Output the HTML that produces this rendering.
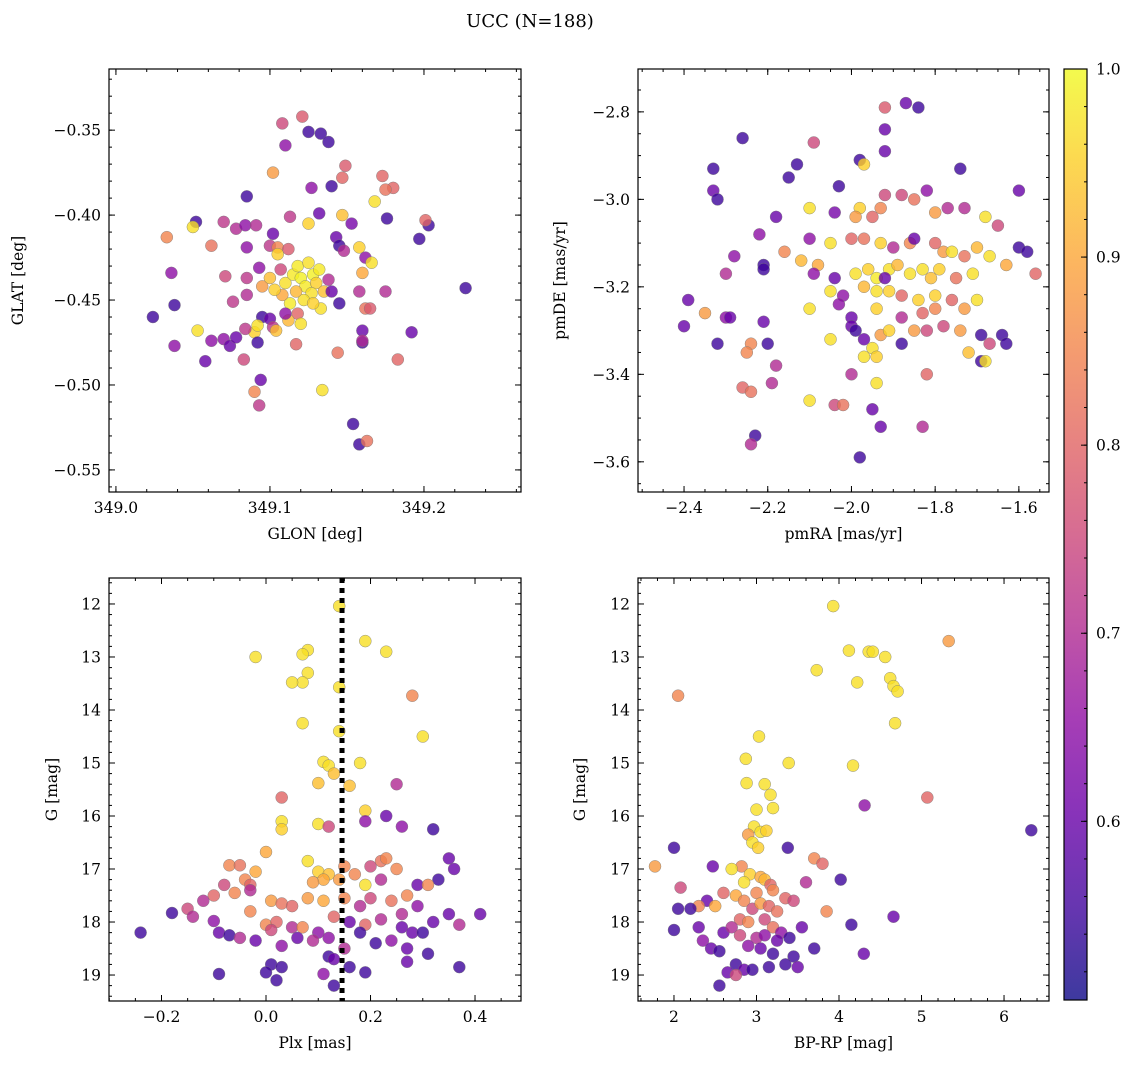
<!DOCTYPE html>
<html><head><meta charset="utf-8"><style>
html,body{margin:0;padding:0;background:#fff}
svg{display:block;font-family:"DejaVu Serif","Liberation Serif",serif}
</style></head><body>
<svg id="fig" width="1136" height="1068" viewBox="0 0 1136 1068" xmlns="http://www.w3.org/2000/svg">
<rect width="1136" height="1068" fill="#fff"/>
<text x="530" y="27" text-anchor="middle" font-size="18">UCC (N=188)</text>
<defs><linearGradient id="cbg" x1="0" y1="1" x2="0" y2="0">
<stop offset="0" stop-color="#0d0887"/><stop offset="0.1" stop-color="#41049d"/><stop offset="0.2" stop-color="#6a00a8"/><stop offset="0.3" stop-color="#8f0da4"/><stop offset="0.4" stop-color="#b12a90"/><stop offset="0.5" stop-color="#cc4778"/><stop offset="0.6" stop-color="#e16462"/><stop offset="0.7" stop-color="#f2844b"/><stop offset="0.8" stop-color="#fca636"/><stop offset="0.9" stop-color="#fcce25"/><stop offset="1" stop-color="#f0f921"/></linearGradient></defs>
</svg>
<script>
// Panel 1: GLON / GLAT / prob
const p1Glon=[349.121,349.108,349.125,349.133,349.138,349.110,349.149,349.102,349.147,349.173,349.180,349.175,349.127,349.140,349.085,349.168,349.113,349.132,349.147,349.153,349.176,349.052,349.050,349.062,349.070,349.078,349.084,349.091,349.102,349.033,349.100,349.105,349.112,349.105,349.085,349.125,349.143,349.145,349.148,349.158,349.162,349.166,349.197,349.203,349.201,349.227,349.036,349.071,349.085,349.093,349.095,349.100,349.107,349.110,349.115,349.118,349.120,349.123,349.125,349.128,349.130,349.132,349.127,349.122,349.117,349.113,349.108,349.103,349.135,349.138,349.140,349.145,349.133,349.128,349.118,349.112,349.120,349.160,349.158,349.162,349.165,349.175,349.085,349.076,349.095,349.100,349.102,349.104,349.090,349.092,349.084,349.070,349.062,349.053,349.038,349.024,349.038,349.058,349.074,349.078,349.092,349.110,349.117,349.144,349.160,349.160,349.160,349.183,349.192,349.083,349.090,349.094,349.093,349.134,349.154,349.158,349.163];
const p1Glat=[-0.342,-0.346,-0.351,-0.352,-0.357,-0.359,-0.371,-0.375,-0.378,-0.377,-0.384,-0.385,-0.384,-0.383,-0.389,-0.392,-0.401,-0.399,-0.400,-0.405,-0.402,-0.404,-0.407,-0.418,-0.404,-0.408,-0.406,-0.406,-0.411,-0.413,-0.418,-0.419,-0.420,-0.423,-0.419,-0.405,-0.413,-0.418,-0.421,-0.419,-0.425,-0.428,-0.414,-0.406,-0.403,-0.443,-0.434,-0.436,-0.437,-0.431,-0.442,-0.437,-0.432,-0.440,-0.435,-0.430,-0.437,-0.442,-0.428,-0.435,-0.440,-0.432,-0.446,-0.450,-0.445,-0.452,-0.447,-0.444,-0.445,-0.438,-0.445,-0.452,-0.455,-0.452,-0.458,-0.462,-0.464,-0.434,-0.445,-0.455,-0.455,-0.445,-0.447,-0.451,-0.460,-0.461,-0.466,-0.468,-0.469,-0.465,-0.467,-0.473,-0.474,-0.468,-0.453,-0.460,-0.477,-0.486,-0.477,-0.472,-0.475,-0.458,-0.476,-0.481,-0.468,-0.475,-0.474,-0.485,-0.469,-0.485,-0.504,-0.497,-0.512,-0.503,-0.523,-0.535,-0.533];
const p1Prob=[0.78,0.75,0.55,0.55,0.55,0.65,0.78,0.88,0.80,0.80,0.80,0.82,0.65,0.55,0.55,0.97,0.72,0.60,0.93,0.62,0.55,0.55,0.97,0.82,0.72,0.70,0.65,0.70,0.60,0.85,0.72,0.85,0.78,0.95,0.65,0.95,0.60,0.55,0.70,0.95,0.65,0.97,0.55,0.55,0.80,0.55,0.65,0.75,0.72,0.65,0.88,0.93,0.75,0.97,0.98,0.98,0.99,0.98,0.97,0.99,0.95,0.98,0.97,0.97,0.92,0.98,0.90,0.95,0.93,0.70,0.60,0.55,0.97,0.95,0.80,0.92,0.97,0.90,0.70,0.82,0.78,0.70,0.70,0.72,0.55,0.60,0.72,0.93,0.95,0.97,0.72,0.65,0.65,0.97,0.55,0.55,0.65,0.60,0.60,0.60,0.55,0.65,0.80,0.82,0.60,0.55,0.70,0.80,0.60,0.75,0.85,0.60,0.72,0.97,0.55,0.55,0.82];
// Panel 2: pmRA / pmDE / prob
const p2Pmra=[-1.92,-1.87,-1.84,-1.92,-2.26,-2.09,-1.92,-2.33,-2.13,-1.98,-1.97,-1.74,-2.15,-2.33,-2.32,-2.03,-1.82,-1.60,-1.92,-1.88,-1.85,-1.93,-1.98,-2.10,-2.18,-2.04,-1.99,-1.95,-1.80,-1.77,-1.73,-1.65,-1.68,-2.22,-2.28,-2.10,-2.05,-2.00,-1.97,-1.93,-1.90,-1.86,-1.85,-1.80,-1.78,-1.76,-1.73,-1.70,-1.67,-1.63,-1.60,-1.58,-1.56,-2.16,-2.12,-2.08,-2.09,-2.04,-1.99,-1.96,-1.94,-1.91,-1.92,-1.89,-1.86,-1.83,-1.81,-1.79,-1.75,-1.71,-2.30,-2.21,-2.21,-2.05,-2.02,-1.97,-1.94,-1.91,-1.88,-1.84,-1.80,-1.76,-1.70,-2.39,-2.35,-2.10,-2.03,-2.00,-1.94,-1.88,-1.83,-1.80,-1.73,-2.40,-2.30,-2.29,-2.32,-2.21,-2.24,-2.20,-2.25,-2.05,-2.00,-1.99,-1.97,-1.93,-1.91,-1.88,-1.85,-1.82,-1.78,-1.74,-1.69,-1.64,-1.63,-1.67,-1.72,-1.69,-1.68,-1.95,-1.94,-1.97,-2.18,-2.19,-2.26,-2.24,-2.00,-1.94,-1.82,-2.10,-2.04,-2.02,-1.95,-1.93,-1.83,-2.23,-2.24,-1.98];
const p2Pmde=[-2.79,-2.78,-2.79,-2.84,-2.86,-2.87,-2.89,-2.93,-2.92,-2.91,-2.92,-2.93,-2.95,-2.98,-3.00,-2.97,-2.98,-2.98,-2.99,-2.99,-3.00,-3.02,-3.02,-3.02,-3.04,-3.03,-3.04,-3.04,-3.03,-3.02,-3.02,-3.06,-3.04,-3.08,-3.13,-3.09,-3.10,-3.09,-3.09,-3.10,-3.11,-3.10,-3.09,-3.10,-3.12,-3.12,-3.13,-3.11,-3.13,-3.15,-3.11,-3.12,-3.17,-3.12,-3.14,-3.15,-3.17,-3.18,-3.17,-3.16,-3.18,-3.16,-3.18,-3.15,-3.17,-3.16,-3.18,-3.16,-3.18,-3.17,-3.17,-3.15,-3.16,-3.21,-3.22,-3.20,-3.21,-3.21,-3.22,-3.23,-3.22,-3.23,-3.23,-3.23,-3.26,-3.25,-3.24,-3.27,-3.25,-3.27,-3.26,-3.25,-3.25,-3.29,-3.27,-3.27,-3.33,-3.28,-3.33,-3.33,-3.35,-3.32,-3.29,-3.30,-3.32,-3.31,-3.30,-3.33,-3.30,-3.30,-3.29,-3.30,-3.31,-3.31,-3.33,-3.33,-3.35,-3.37,-3.37,-3.34,-3.36,-3.36,-3.38,-3.42,-3.43,-3.44,-3.40,-3.42,-3.40,-3.46,-3.47,-3.47,-3.48,-3.52,-3.52,-3.54,-3.56,-3.59];
const p2Prob=[0.78,0.60,0.55,0.60,0.55,0.75,0.60,0.55,0.55,0.55,0.95,0.55,0.55,0.60,0.55,0.55,0.65,0.60,0.75,0.75,0.82,0.85,0.95,0.97,0.60,0.62,0.88,0.80,0.88,0.70,0.70,0.75,0.97,0.65,0.65,0.65,0.97,0.80,0.82,0.95,0.70,0.85,0.60,0.80,0.88,0.97,0.82,0.92,0.97,0.90,0.55,0.55,0.80,0.85,0.92,0.90,0.65,0.60,0.97,0.95,0.98,0.97,0.60,0.92,0.97,0.97,0.93,0.95,0.82,0.97,0.70,0.55,0.55,0.97,0.65,0.92,0.97,0.95,0.80,0.95,0.95,0.80,0.97,0.60,0.88,0.97,0.65,0.60,0.95,0.70,0.80,0.85,0.88,0.60,0.65,0.60,0.55,0.60,0.85,0.55,0.85,0.97,0.60,0.55,0.60,0.88,0.95,0.55,0.88,0.75,0.75,0.88,0.55,0.55,0.55,0.75,0.93,0.55,0.97,0.97,0.95,0.97,0.70,0.70,0.80,0.82,0.70,0.97,0.80,0.97,0.75,0.82,0.60,0.60,0.70,0.55,0.70,0.55];
// Panel 3: Plx / G / prob
const p3Plx=[0.14,0.19,0.23,0.08,0.07,-0.02,0.08,0.07,0.05,0.14,0.28,0.07,0.14,0.30,0.11,0.12,0.18,0.13,0.10,0.16,0.25,0.19,0.03,0.23,0.19,0.10,0.03,0.12,0.03,0.26,0.32,0.00,0.35,0.22,0.23,0.25,0.20,0.15,0.08,0.10,0.12,0.11,0.09,0.14,0.17,0.19,0.22,0.29,0.33,0.31,0.36,-0.07,-0.05,-0.04,-0.03,-0.02,-0.08,-0.06,-0.10,-0.12,-0.03,0.01,0.03,0.05,0.08,0.11,0.15,0.18,0.20,0.24,0.27,0.26,0.29,-0.15,-0.18,-0.14,-0.10,-0.03,0.00,0.02,0.05,0.07,0.10,0.13,0.16,0.19,0.22,0.26,0.28,0.32,0.35,0.37,0.41,-0.24,-0.09,-0.07,-0.05,-0.02,0.01,0.03,0.06,0.09,0.12,0.15,0.18,0.21,0.24,0.27,0.30,0.31,0.27,0.12,0.13,0.16,0.19,0.11,0.13,0.01,0.03,0.00,0.02,-0.09,0.37];
const p3G=[12.04,12.7,12.9,12.87,12.95,13.0,13.3,13.48,13.48,13.57,13.73,14.25,14.4,14.5,14.98,15.05,15.0,15.2,15.38,15.43,15.4,15.9,15.65,16.0,16.1,16.15,16.1,16.2,16.25,16.2,16.25,16.68,16.8,16.85,16.8,17.0,16.95,16.95,16.85,17.05,17.1,17.2,17.25,17.2,17.1,17.3,17.2,17.3,17.2,17.3,17.0,16.93,16.93,17.2,17.3,17.05,17.3,17.45,17.5,17.6,17.4,17.6,17.65,17.7,17.55,17.6,17.55,17.7,17.55,17.6,17.5,17.85,17.7,17.75,17.83,17.9,17.98,17.8,18.05,18.0,18.1,18.1,18.2,17.9,18.0,18.05,17.95,18.1,18.2,18.0,17.85,18.05,17.85,18.2,18.2,18.25,18.3,18.35,18.15,18.45,18.3,18.35,18.3,18.5,18.2,18.4,18.35,18.5,18.2,18.6,18.75,18.65,18.7,18.85,18.95,18.98,19.2,18.8,18.85,18.95,19.1,18.98,18.85];
const p3Prob=[0.97,0.97,0.97,0.97,0.97,0.97,0.97,0.97,0.97,0.97,0.85,0.97,0.97,0.97,0.97,0.97,0.97,0.93,0.93,0.93,0.70,0.95,0.80,0.60,0.65,0.97,0.97,0.75,0.95,0.65,0.55,0.90,0.60,0.82,0.85,0.85,0.75,0.85,0.97,0.95,0.93,0.90,0.88,0.88,0.85,0.97,0.70,0.60,0.55,0.85,0.60,0.85,0.82,0.85,0.80,0.90,0.75,0.85,0.80,0.70,0.70,0.88,0.82,0.80,0.88,0.90,0.85,0.70,0.75,0.82,0.85,0.70,0.65,0.75,0.55,0.70,0.65,0.85,0.85,0.80,0.70,0.85,0.65,0.80,0.60,0.80,0.70,0.60,0.60,0.60,0.60,0.70,0.60,0.55,0.60,0.55,0.70,0.60,0.75,0.65,0.60,0.70,0.65,0.70,0.55,0.55,0.65,0.60,0.55,0.55,0.60,0.55,0.60,0.55,0.55,0.65,0.55,0.55,0.55,0.55,0.55,0.55,0.55];
// Panel 4: BP-RP / G / prob
const p4Bprp=[3.93,5.33,4.12,4.36,4.41,4.56,3.73,4.62,4.66,4.22,4.71,2.05,4.68,3.03,2.87,3.39,4.17,2.88,3.1,3.17,5.07,4.31,3.0,3.2,2.97,2.9,3.05,3.12,6.33,2.0,2.95,3.02,3.38,3.7,3.8,2.82,2.47,2.7,1.77,2.92,3.05,3.1,2.85,3.17,3.6,4.02,2.08,2.6,2.75,3.0,3.2,3.35,3.45,2.85,2.95,3.05,3.15,3.25,2.4,2.5,2.3,2.05,2.2,3.85,4.66,2.8,2.9,3.1,3.2,3.3,3.55,4.15,2.0,2.3,2.6,2.7,2.8,3.0,3.1,3.25,3.4,2.35,2.45,2.55,2.9,3.05,3.2,3.45,3.7,4.3,2.75,2.85,2.95,3.15,3.35,3.5,2.65,2.75,2.55];
const p4G=[12.04,12.7,12.88,12.9,12.9,13.0,13.25,13.4,13.55,13.48,13.65,13.73,14.25,14.5,14.92,15.0,15.05,15.38,15.4,15.6,15.65,15.8,15.88,15.85,16.2,16.35,16.3,16.28,16.27,16.6,16.5,16.6,16.6,16.8,16.9,16.95,16.95,17.0,16.95,17.1,17.15,17.2,17.25,17.3,17.25,17.2,17.35,17.45,17.5,17.45,17.4,17.55,17.6,17.6,17.75,17.65,17.7,17.8,17.6,17.7,17.7,17.75,17.75,17.8,17.9,17.95,18.0,17.95,18.1,18.2,18.1,18.05,18.15,18.1,18.2,18.1,18.25,18.3,18.25,18.35,18.3,18.35,18.5,18.55,18.45,18.5,18.6,18.65,18.5,18.6,18.8,18.9,18.9,18.85,18.8,18.85,18.95,19.0,19.2];
const p4Prob=[0.97,0.88,0.97,0.97,0.97,0.97,0.97,0.97,0.97,0.97,0.97,0.85,0.97,0.97,0.97,0.97,0.97,0.97,0.97,0.97,0.80,0.65,0.97,0.97,0.97,0.88,0.97,0.95,0.55,0.55,0.97,0.95,0.55,0.85,0.80,0.85,0.60,0.97,0.88,0.95,0.90,0.92,0.97,0.80,0.70,0.55,0.75,0.80,0.90,0.85,0.85,0.80,0.75,0.85,0.75,0.88,0.80,0.82,0.60,0.90,0.85,0.55,0.55,0.85,0.60,0.80,0.85,0.75,0.82,0.65,0.60,0.55,0.55,0.60,0.60,0.70,0.75,0.70,0.65,0.60,0.55,0.65,0.60,0.55,0.65,0.60,0.55,0.55,0.55,0.60,0.55,0.60,0.55,0.55,0.55,0.60,0.60,0.75,0.55];
// Colorbar
const cbTicks=[0.6,0.7,0.8,0.9,1.0];
const plxRef=0.1455;

const NS='http://www.w3.org/2000/svg';
const svg=document.getElementById('fig');
function mk(tag,attrs,parent){const e=document.createElementNS(NS,tag);for(const k in attrs)e.setAttribute(k,attrs[k]);(parent||svg).appendChild(e);return e;}
const stops=[[13,8,135],[65,4,157],[106,0,168],[143,13,164],[177,42,144],[204,71,120],[225,100,98],[242,132,75],[252,166,54],[252,206,37],[240,249,33]];
const vmin=0.505,vmax=1.0;
function cmap(v){let t=(v-vmin)/(vmax-vmin);t=Math.max(0,Math.min(1,t))*10;const i=Math.min(9,Math.floor(t)),f=t-i;const a=stops[i],b=stops[i+1];return 'rgb('+[0,1,2].map(k=>Math.round(a[k]+(b[k]-a[k])*f)).join(',')+')';}
function range(a,b,s){const r=[];for(let v=a;v<=b+s*1e-6;v+=s)r.push(Math.round(v/s)*s);return r;}

function panel(name,box,xd,yd,xMaj,xMin,yMaj,yMin,xl,yl,yoff,xs,ys,ps,fmtX,fmtY){
  const [L,T,R,B]=box;
  const sx=v=>L+(v-xd[0])/(xd[1]-xd[0])*(R-L);
  const sy=v=>T+(v-yd[0])/(yd[1]-yd[0])*(B-T);
  const g=mk('g',{});
  
  
  const pts=mk('g',{},g);
  
  
  for(let i=0;i<xs.length;i++){
    const c=mk('circle',{cx:sx(xs[i]).toFixed(1),cy:sy(ys[i]).toFixed(1),r:6,fill:cmap(ps[i]),'fill-opacity':0.8,stroke:'#777','stroke-width':0.4},pts);
    
    
  }
  const ax=mk('g',{stroke:'#000','stroke-width':1},g);
  for(const v of xMin){const x=sx(v);if(x<L||x>R)continue;mk('line',{x1:x,y1:B,x2:x,y2:B-3},ax);mk('line',{x1:x,y1:T,x2:x,y2:T+3},ax);}
  for(const v of yMin){const y=sy(v);if(y<T||y>B)continue;mk('line',{x1:L,y1:y,x2:L+3,y2:y},ax);mk('line',{x1:R,y1:y,x2:R-3,y2:y},ax);}
  for(const v of xMaj){const x=sx(v);mk('line',{x1:x,y1:B,x2:x,y2:B-6},ax);mk('line',{x1:x,y1:T,x2:x,y2:T+6},ax);
    const t=mk('text',{x:x,y:B+21,'text-anchor':'middle','font-size':15.5,stroke:'none'},g);t.textContent=fmtX(v);
    
    }
  for(const v of yMaj){const y=sy(v);mk('line',{x1:L,y1:y,x2:L+6,y2:y},ax);mk('line',{x1:R,y1:y,x2:R-6,y2:y},ax);
    const t=mk('text',{x:L-8,y:y+5.5,'text-anchor':'end','font-size':15.5},g);t.textContent=fmtY(v);
    
    }
  mk('rect',{x:L,y:T,width:R-L,height:B-T,fill:'none',stroke:'#000','stroke-width':1.2},g);
  const xt=mk('text',{x:(L+R)/2,y:B+47,'text-anchor':'middle','font-size':15.5},g);xt.textContent=xl;
  
  
  const yx=L-yoff, yy=(T+B)/2;
  const yt=mk('text',{x:yx,y:yy,'text-anchor':'middle','font-size':15.5,transform:'rotate(-90 '+yx+' '+yy+')'},g);yt.textContent=yl;
  
  
  return {sx,sy,g};
}
const minus=s=>s.replace('-','\u2212');
panel('glon-glat',[109,69,521,492],[348.9955,349.263],[-0.314,-0.563],[349.0,349.1,349.2],range(349.0,349.26,0.02),range(-0.55,-0.35,0.05).reverse(),range(-0.56,-0.32,0.01),'GLON [deg]','GLAT [deg]',86,p1Glon,p1Glat,p1Prob,v=>v.toFixed(1),v=>minus(v.toFixed(2)));
panel('pm',[638,69,1049,492],[-2.51,-1.528],[-2.702,-3.669],range(-2.4,-1.6,0.2),range(-2.5,-1.55,0.05),range(-3.6,-2.8,0.2),range(-3.65,-2.7,0.05),'pmRA [mas/yr]','pmDE [mas/yr]',73,p2Pmra,p2Pmde,p2Prob,v=>minus(v.toFixed(1)),v=>minus(v.toFixed(1)));
const p3=panel('plx-g',[109,578,521,1001],[-0.3005,0.488],[11.51,19.49],range(-0.2,0.4,0.2),range(-0.3,0.45,0.05),range(12,19,1),range(11.6,19.4,0.2),'Plx [mas]','G [mag]',52,p3Plx,p3G,p3Prob,v=>minus(v.toFixed(1)),v=>v.toFixed(0));
const dl=mk('line',{x1:p3.sx(plxRef),y1:578,x2:p3.sx(plxRef),y2:1001,stroke:'#000','stroke-width':5,'stroke-dasharray':'5,5'});


panel('cmd',[638,578,1049,1001],[1.564,6.545],[11.51,19.49],range(2,6,1),range(1.6,6.4,0.2),range(12,19,1),range(11.6,19.4,0.2),'BP-RP [mag]','G [mag]',53,p4Bprp,p4G,p4Prob,v=>v.toFixed(0),v=>v.toFixed(0));

// colorbar
const cb=mk('g',{});


const cT=69,cB=1000,cL=1064,cR=1087;
mk('rect',{x:cL,y:cT,width:cR-cL,height:cB-cT,fill:'url(#cbg)','fill-opacity':0.8},cb);
mk('rect',{x:cL,y:cT,width:cR-cL,height:cB-cT,fill:'none',stroke:'#000','stroke-width':1.2},cb);
const cy=v=>cB-(v-vmin)/(vmax-vmin)*(cB-cT);
for(const v of range(0.52,1.0,0.02)){mk('line',{x1:cR,y1:cy(v),x2:cR-3,y2:cy(v),stroke:'#000'},cb);}
for(const v of cbTicks){mk('line',{x1:cR,y1:cy(v),x2:cR-6,y2:cy(v),stroke:'#000'},cb);
  const t=mk('text',{x:cR+9,y:cy(v)+5.5,'font-size':15.5},cb);t.textContent=v.toFixed(1);
  
  }
</script>
</body></html>
